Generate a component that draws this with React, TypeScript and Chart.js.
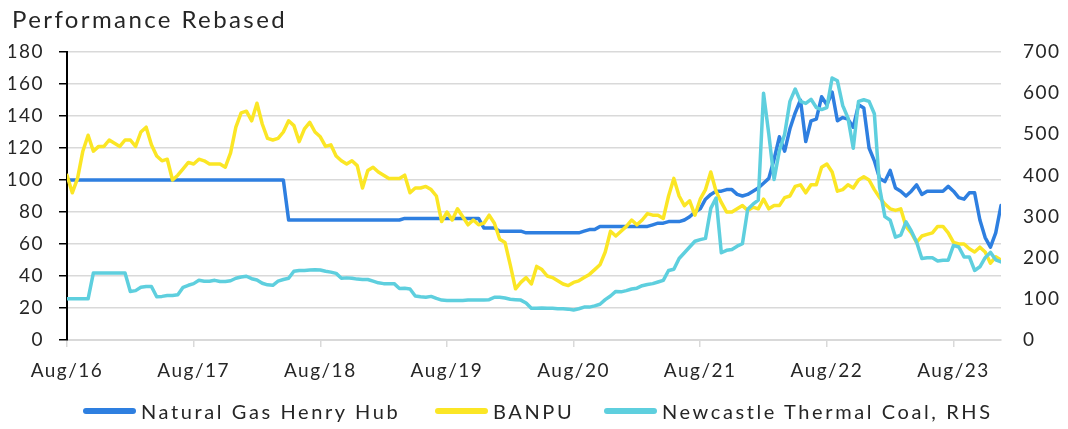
import { useEffect, useRef } from 'react';
import { Chart, registerables } from 'chart.js';

Chart.register(...registerables);

// x-axis tick labels (one per year, every 12 months from Aug 2016)
const X_LABELS = ['Aug/16', 'Aug/17', 'Aug/18', 'Aug/19', 'Aug/20', 'Aug/21', 'Aug/22', 'Aug/23'];

// Half-monthly observations starting Aug 2016 (index i -> i/2 months after Aug/16)
const GAS_HENRY_HUB = [
  100, 100, 100, 100, 100, 100, 100, 100, 100, 100, 100, 100, 100, 100, 100, 100, 100, 100, 100, 100,
  100, 100, 100, 100, 100, 100, 100, 100, 100, 100, 100, 100, 100, 100, 100, 100, 100, 100, 100, 100,
  100, 100,
  75, 75, 75, 75, 75, 75, 75, 75, 75, 75, 75, 75, 75, 75, 75, 75, 75, 75, 75, 75, 75, 75,
  76, 76, 76, 76, 76, 76, 76, 76, 76, 76, 76, 76, 76, 76, 76,
  70, 70, 70, 68, 68, 68, 68, 68, 67, 67, 67, 67, 67, 67, 67, 67, 67, 67, 67, 68, 69, 69, 71, 71, 71, 71,
  71, 71, 71, 71, 71, 71, 72, 73, 73, 74, 74, 74, 75, 77, 80, 82, 88, 91, 93, 93, 94, 94, 91, 90,
  91, 93, 95, 98, 101, 113, 127, 118, 132, 142, 150,
  124, 137, 138, 152, 147, 155, 137, 139, 138, 133, 147, 145, 120, 112, 101, 99, 106, 95, 93, 90,
  93, 97, 91, 93, 93, 93, 93, 96, 93, 89, 88, 92, 92, 75, 64, 58, 67, 84,
];

const BANPU = [
  103, 92, 101, 118, 128, 118, 121, 121, 125, 123, 121, 125, 125, 121, 130, 133, 122, 115, 112, 113,
  100, 103, 107, 111, 110, 113, 112, 110, 110, 110, 108, 117, 133, 142, 143,
  137, 148, 135, 126, 125, 126, 130, 137, 134, 124, 132, 136, 130, 127, 121, 122, 115, 112, 110, 112,
  109, 95, 106, 108, 105, 103, 101, 101, 101, 103, 92, 95, 95, 96, 94,
  90, 74, 80, 75, 82, 77, 72, 75, 72, 73, 78, 73, 63, 61, 47, 32, 36, 39, 35, 46,
  44, 40, 39, 37, 35, 34, 36, 37, 39, 41, 44, 47, 55, 68, 65,
  68, 71, 75, 72, 75, 79, 78, 78, 76, 90, 101, 90, 84, 87, 78, 88, 94, 105, 93, 86,
  80, 80, 82, 84, 81, 83, 82, 88, 82, 84, 84, 89, 90, 96, 97,
  92, 97, 97, 108, 110, 105, 93, 94, 97, 95, 100, 102, 100, 94, 89, 85, 82, 81, 82, 71,
  67, 61, 65, 66, 67, 71, 71, 67, 61, 60, 60, 57, 55, 58, 55, 48, 52, 50,
];

const NEWCASTLE_COAL = [
  100, 100, 100, 100, 100, 163, 163, 163, 163, 163, 163, 163, 118, 120, 128, 130, 130, 105, 106, 108,
  108, 110, 128, 133, 137, 145, 143, 143, 145, 142, 142, 144, 150, 153, 155,
  149, 146, 138, 134, 133, 143, 147, 150, 167, 169, 169, 170, 171, 170, 167, 165, 162, 150, 151, 150,
  148, 147, 147, 143, 139, 137, 137, 137, 125, 126, 124, 107, 105, 104, 106,
  101, 97, 96, 96, 96, 96, 97, 97, 97, 97, 98, 104, 104, 102, 99, 98, 97, 90, 77, 77,
  78, 77, 77, 76, 76, 75, 73, 76, 80, 80, 83, 87, 98, 107, 118,
  117, 120, 124, 126, 132, 135, 137, 141, 145, 169, 172, 198, 212, 226, 240, 244, 247, 320, 345, 212,
  218, 220, 228, 234, 318, 330, 340, 600, 500, 390, 460, 500, 580, 610, 580,
  575, 585, 565, 560, 565, 637, 630, 570, 540, 466, 580, 584, 580, 550, 370, 300, 291, 250, 255, 287,
  265, 238, 198, 200, 200, 192, 194, 194, 230, 226, 202, 202, 169, 178, 200, 213, 195, 190,
];

const SERIES_NAMES = ['Natural Gas Henry Hub', 'BANPU', 'Newcastle Thermal Coal, RHS'];
const COLORS = ['#2E7FE0', '#FBE625', '#5ECFDE'];
const LEGEND_LEFT = [83, 435, 604];

const FONT_FAMILY = 'Lato, "Noto Sans", sans-serif';
const TEXT_COLOR = '#262626';
const GRID_COLOR = '#D9D9D9';

const spacingPlugin = {
  id: 'tickLetterSpacing',
  beforeLayout(chart: any) {
    chart.ctx.letterSpacing = '1.5px';
  },
  beforeDraw(chart: any) {
    chart.ctx.letterSpacing = '1.5px';
  },
};

export default function App() {
  const canvasRef = useRef<HTMLCanvasElement | null>(null);

  useEffect(() => {
    const canvas = canvasRef.current;
    if (!canvas) return;
    const months = BANPU.map((_, i) => i * 0.5);
    const toPoints = (arr: number[]) => arr.map((y, i) => ({ x: months[i], y }));
    const tickFont = { family: FONT_FAMILY, size: 19 };

    const chart = new Chart(canvas, {
      type: 'line',
      data: {
        datasets: [
          {
            label: SERIES_NAMES[0],
            data: toPoints(GAS_HENRY_HUB),
            borderColor: COLORS[0],
            backgroundColor: COLORS[0],
            yAxisID: 'y',
            order: 3,
          },
          {
            label: SERIES_NAMES[1],
            data: toPoints(BANPU),
            borderColor: COLORS[1],
            backgroundColor: COLORS[1],
            yAxisID: 'y',
            order: 2,
          },
          {
            label: SERIES_NAMES[2],
            data: toPoints(NEWCASTLE_COAL),
            borderColor: COLORS[2],
            backgroundColor: COLORS[2],
            yAxisID: 'y1',
            order: 1,
          },
        ],
      },
      plugins: [spacingPlugin],
      options: {
        responsive: false,
        animation: false,
        layout: { padding: { left: 9, right: 0, top: 52, bottom: 39 } },
        elements: {
          point: { radius: 0 },
          line: { borderWidth: 3.5, tension: 0, borderJoinStyle: 'round', borderCapStyle: 'round' },
        },
        scales: {
          x: {
            type: 'linear',
            min: 0,
            max: 88.5,
            afterFit: (s: any) => {
              s.height = 50;
            },
            grid: {
              drawOnChartArea: false,
              tickLength: 7,
              tickColor: GRID_COLOR,
              lineWidth: 1.5,
            },
            border: { color: GRID_COLOR, width: 2 },
            ticks: {
              stepSize: 12,
              includeBounds: false,
              autoSkip: false,
              maxRotation: 0,
              padding: 12,
              font: tickFont,
              color: TEXT_COLOR,
              callback: (v: any) => (Number(v) % 12 === 0 ? X_LABELS[Number(v) / 12] : ''),
            },
          },
          y: {
            position: 'left',
            min: 0,
            max: 180,
            afterFit: (s: any) => {
              s.width = 58;
            },
            ticks: { stepSize: 20, padding: 15, font: tickFont, color: TEXT_COLOR },
            grid: { color: GRID_COLOR, lineWidth: 1.5, tickLength: 8, tickColor: '#000' },
            border: { color: '#000', width: 2 },
          },
          y1: {
            position: 'right',
            min: 0,
            max: 700,
            afterFit: (s: any) => {
              s.width = 67;
            },
            ticks: { stepSize: 100, padding: 22, font: tickFont, color: TEXT_COLOR },
            grid: { display: false, drawTicks: false },
            border: { display: false },
          },
        },
        plugins: {
          title: { display: false },
          legend: { display: false },
          tooltip: { enabled: false },
        },
      } as any,
    });

    return () => chart.destroy();
  }, []);

  return (
    <div
      style={{
        position: 'fixed',
        left: 0,
        top: 0,
        width: 1068,
        height: 429,
        background: '#fff',
        fontFamily: FONT_FAMILY,
        color: TEXT_COLOR,
      }}
    >
      <canvas ref={canvasRef} width={1068} height={429} style={{ width: 1068, height: 429, display: 'block' }} />
      <div
        style={{
          position: 'absolute',
          left: 12,
          top: 7,
          fontSize: 24,
          lineHeight: '24px',
          letterSpacing: '2.4px',
          whiteSpace: 'nowrap',
        }}
      >
        Performance Rebased
      </div>
      {SERIES_NAMES.map((name, i) => (
        <div
          key={name}
          style={{
            position: 'absolute',
            left: LEGEND_LEFT[i],
            top: 400,
            height: 22,
            display: 'flex',
            alignItems: 'center',
            whiteSpace: 'nowrap',
          }}
        >
          <span
            style={{
              display: 'inline-block',
              width: 53,
              height: 6,
              borderRadius: 3,
              background: COLORS[i],
              marginRight: 5,
            }}
          />
          <span style={{ fontSize: 20, lineHeight: '22px', letterSpacing: '2.6px' }}>{name}</span>
        </div>
      ))}
    </div>
  );
}
